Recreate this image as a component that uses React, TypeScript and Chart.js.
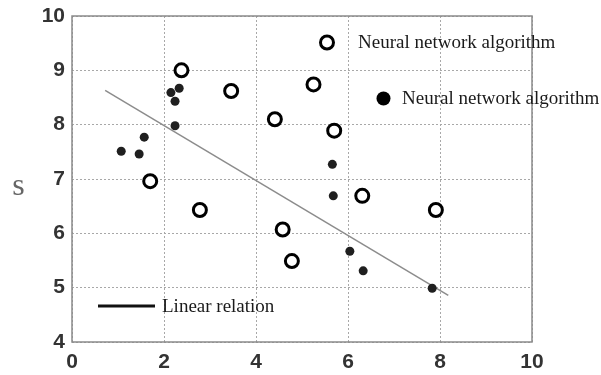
import React, { useEffect, useRef } from "react";
import { Chart, registerables } from "chart.js";

Chart.register(...registerables);

const xTicks = [0, 2, 4, 6, 8, 10];
const yTicks = [4, 5, 6, 7, 8, 9, 10];

const hollowX = [2.38, 3.46, 4.41, 1.70, 2.78, 4.58, 4.78, 5.25, 5.70, 6.31, 7.91];
const hollowY = [9.0, 8.62, 8.1, 6.96, 6.43, 6.07, 5.49, 8.74, 7.89, 6.69, 6.43];

const filledX = [1.07, 1.46, 1.57, 2.15, 2.33, 2.24, 2.24, 5.66, 5.68, 6.04, 6.33, 7.83];
const filledY = [7.51, 7.46, 7.77, 8.59, 8.67, 8.43, 7.98, 7.27, 6.69, 5.67, 5.31, 4.99];

const lineX = [0.72, 8.18];
const lineY = [8.63, 4.86];

const legendLabels = ["Neural network algorithm", "Neural network algorithm", "Linear relation"];
const yAxisLabel = "s";

const overlayPlugin = {
  id: "overlay",
  afterDraw(chart: any) {
    const { ctx, chartArea } = chart;
    const { left, top, right, bottom } = chartArea;
    ctx.save();
    // frame
    ctx.strokeStyle = "#8a8a8a";
    ctx.lineWidth = 1.5;
    ctx.setLineDash([]);
    ctx.strokeRect(left, top, right - left, bottom - top);

    // legends
    ctx.font = "19px 'Liberation Serif', 'Times New Roman', serif";
    ctx.fillStyle = "#1a1a1a";
    ctx.textBaseline = "middle";
    ctx.textAlign = "left";

    // hollow legend
    ctx.beginPath();
    ctx.arc(327, 42.5, 6.5, 0, Math.PI * 2);
    ctx.lineWidth = 3;
    ctx.strokeStyle = "#000";
    ctx.fillStyle = "#fff";
    ctx.fill();
    ctx.stroke();
    ctx.fillStyle = "#1a1a1a";
    ctx.fillText(legendLabels[0], 358, 43);

    // filled legend
    ctx.beginPath();
    ctx.arc(383.5, 98.5, 7, 0, Math.PI * 2);
    ctx.fillStyle = "#000";
    ctx.fill();
    ctx.fillStyle = "#1a1a1a";
    ctx.fillText(legendLabels[1], 402, 99);

    // line legend
    ctx.beginPath();
    ctx.moveTo(98, 306);
    ctx.lineTo(155, 306);
    ctx.lineWidth = 3;
    ctx.strokeStyle = "#111";
    ctx.stroke();
    ctx.fillText(legendLabels[2], 162, 307);

    // y label
    ctx.font = "32px 'Liberation Serif', 'Times New Roman', serif";
    ctx.fillStyle = "#666";
    ctx.textAlign = "center";
    ctx.fillText(yAxisLabel, 18.5, 187);
    ctx.restore();
  },
};

export default function App() {
  const ref = useRef<HTMLCanvasElement | null>(null);

  useEffect(() => {
    document.body.style.margin = "0";
    const canvas = ref.current;
    if (!canvas) return;
    const tickFont = { family: "'Liberation Sans', Arial, sans-serif", size: 21, weight: "bold" as const };
    const chart = new Chart(canvas, {
      type: "scatter",
      data: {
        datasets: [
          {
            type: "line",
            data: lineX.map((x, i) => ({ x, y: lineY[i] })),
            borderColor: "#8c8c8c",
            borderWidth: 1.5,
            pointRadius: 0,
            fill: false,
            order: 3,
          } as any,
          {
            data: filledX.map((x, i) => ({ x, y: filledY[i] })),
            backgroundColor: "#1f1f1f",
            borderColor: "#1f1f1f",
            borderWidth: 0,
            pointRadius: 4.5,
            order: 2,
          },
          {
            data: hollowX.map((x, i) => ({ x, y: hollowY[i] })),
            backgroundColor: "#ffffff",
            borderColor: "#000000",
            borderWidth: 3,
            pointRadius: 6.5,
            order: 1,
          },
        ],
      },
      options: {
        animation: false,
        responsive: false,
        maintainAspectRatio: false,
        layout: { padding: { left: 0, top: 16, right: 69, bottom: 0 } },
        plugins: { legend: { display: false }, tooltip: { enabled: false } },
        scales: {
          x: {
            type: "linear",
            min: 0,
            max: 10,
            afterBuildTicks: (s: any) => {
              s.ticks = xTicks.map((v) => ({ value: v }));
            },
            afterFit: (s: any) => {
              s.height = 33;
              s.paddingLeft = 0;
              s.paddingRight = 0;
            },
            grid: {
              color: "#a8a8a8",
              lineWidth: 1,
              drawTicks: false,
            },
            border: { display: false, dash: [2, 2] },
            ticks: {
              color: "#333",
              font: tickFont,
              padding: 8,
              maxRotation: 0,
            },
          },
          y: {
            type: "linear",
            min: 4,
            max: 10,
            afterBuildTicks: (s: any) => {
              s.ticks = yTicks.map((v) => ({ value: v }));
            },
            afterFit: (s: any) => {
              s.width = 72;
              s.paddingTop = 0;
              s.paddingBottom = 0;
            },
            grid: {
              color: "#a8a8a8",
              lineWidth: 1,
              drawTicks: false,
            },
            border: { display: false, dash: [2, 2] },
            ticks: {
              color: "#333",
              font: tickFont,
              padding: 7,
            },
          },
        },
      },
      plugins: [overlayPlugin],
    });
    return () => chart.destroy();
  }, []);

  return (
    <div style={{ width: 601, height: 375, background: "#fff" }}>
      <canvas ref={ref} width={601} height={375} style={{ width: 601, height: 375, display: "block" }} />
    </div>
  );
}
